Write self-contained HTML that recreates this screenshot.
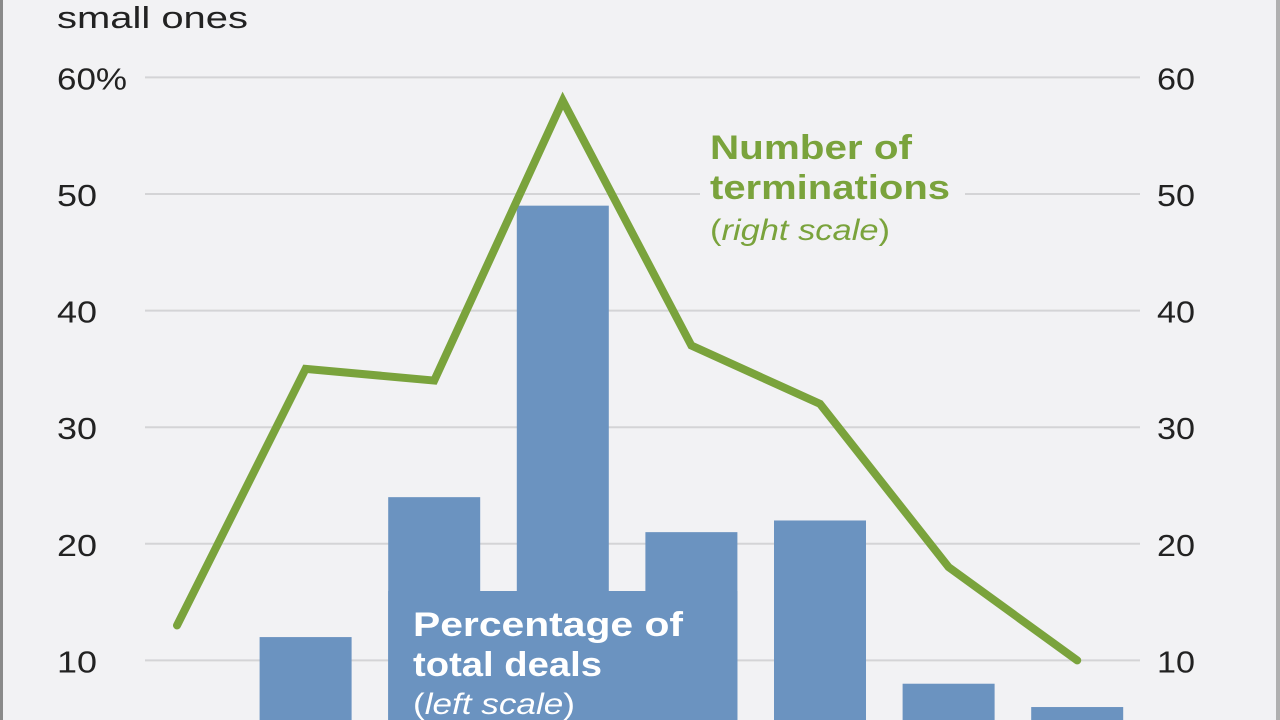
<!DOCTYPE html>
<html><head><meta charset="utf-8"><style>
html,body{margin:0;padding:0;background:#f2f2f4;width:1280px;height:720px;overflow:hidden;position:relative;}
svg{display:block;font-family:"Liberation Sans",Arial,sans-serif;}
</style></head><body>
<svg width="1280" height="720" viewBox="0 0 1280 720">
<rect x="0" y="0" width="1280" height="720" fill="#f2f2f4"/>
<rect x="0" y="0" width="3" height="720" fill="#8a8a8a"/>
<rect x="1276" y="0" width="4" height="720" fill="#b0b0b0"/>
<text x="57" y="28" font-size="31" fill="#222" textLength="191" lengthAdjust="spacingAndGlyphs">small ones</text>
<g id="grid"></g><g id="bars"></g><g id="labelbox"></g><g id="line"></g><g id="labels"></g>
</svg>
<script>
const categories=["c0","c1","c2","c3","c4","c5","c6","c7"];
const pctDeals=[0,12,24,49,21,22,8,6];
const terminations=[13,35,34,58,37,32,18,10];
const leftTicks=[10,20,30,40,50,60];
const leftTickLabels=["10","20","30","40","50","60%"];
const rightTickLabels=["10","20","30","40","50","60"];
const NS="http://www.w3.org/2000/svg";
function y(v){return 777-v*11.66;}
function x(i){return 177+i*128.6;}
const BW=92;
const BOTTOM=720;
function mk(tag,attrs,parent){const e=document.createElementNS(NS,tag);for(const k in attrs)e.setAttribute(k,attrs[k]);document.getElementById(parent).appendChild(e);return e;}
leftTicks.forEach((t,i)=>{
 const g=mk('line',{x1:145,x2:1140,y1:y(t),y2:y(t),stroke:'#d4d4d6','stroke-width':2},'grid');
 
 
 const lt=leftTickLabels[i];
 const l=mk('text',{x:57,y:y(t)+12,'font-size':31,fill:'#222',textLength:lt.length>2?70:40,lengthAdjust:'spacingAndGlyphs'},'labels');l.textContent=lt;
 
 
 const r=mk('text',{x:1157,y:y(t)+12,'font-size':31,fill:'#222',textLength:38,lengthAdjust:'spacingAndGlyphs'},'labels');r.textContent=rightTickLabels[i];
 
 
});
pctDeals.forEach((v,i)=>{
 if(v<=0)return;
 const top=y(v);
 const b=mk('rect',{x:x(i)-BW/2,y:top,width:BW,height:Math.max(0,BOTTOM-top),fill:'#6b93c0'},'bars');
 
 
});
const lb=mk('rect',{x:x(2)-BW/2,y:591,width:x(4)+BW/2-(x(2)-BW/2),height:BOTTOM-591,fill:'#6b93c0'},'labelbox');


const gb=mk('rect',{x:700,y:185,width:265,height:25,fill:'#f2f2f4'},'labelbox');


const pts=terminations.map((v,i)=>x(i)+','+y(v)).join(' ');
const pl=mk('polyline',{points:pts,fill:'none',stroke:'#7aa33c','stroke-width':8,'stroke-linejoin':'miter','stroke-linecap':'round'},'line');


</script>
<svg style="position:absolute;left:0;top:0" width="1280" height="720">
<g font-family="Liberation Sans, Arial, sans-serif">
<text x="710" y="159" font-size="34" font-weight="bold" fill="#7aa33c" textLength="202" lengthAdjust="spacingAndGlyphs">Number of</text>
<text x="710" y="199" font-size="34" font-weight="bold" fill="#7aa33c" textLength="240" lengthAdjust="spacingAndGlyphs">terminations</text>
<text x="710" y="240" font-size="30" fill="#7aa33c" textLength="180" lengthAdjust="spacingAndGlyphs">(<tspan font-style="italic">right scale</tspan>)</text>
<text x="413" y="636" font-size="34" font-weight="bold" fill="#fff" textLength="270" lengthAdjust="spacingAndGlyphs">Percentage of</text>
<text x="413" y="676" font-size="34" font-weight="bold" fill="#fff" textLength="189" lengthAdjust="spacingAndGlyphs">total deals</text>
<text x="413" y="714" font-size="30" fill="#fff" textLength="162" lengthAdjust="spacingAndGlyphs">(<tspan font-style="italic">left scale</tspan>)</text>
</g></svg>
</body></html>
